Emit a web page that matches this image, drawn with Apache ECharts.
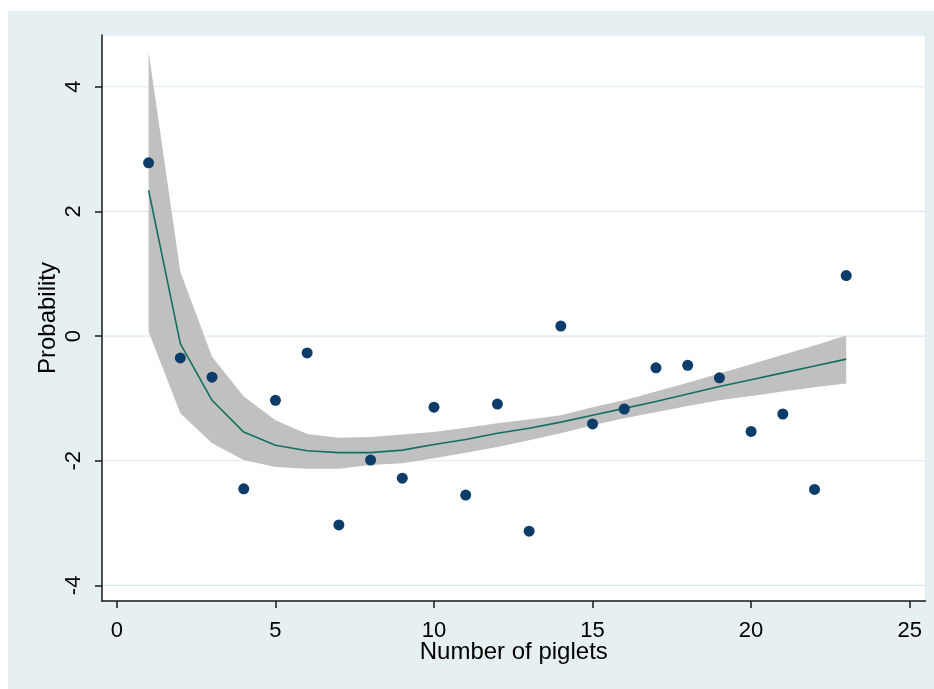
<!DOCTYPE html>
<html><head><meta charset="utf-8">
<script src="https://cdn.jsdelivr.net/npm/echarts@6/dist/echarts.min.js"></script>
<style>html,body{margin:0;padding:0;background:#fff}#c{width:934px;height:689px}</style>
</head><body><div id="c"></div>
<script>
// Observed points
const piglets = [1,2,3,4,5,6,7,8,9,10,11,12,13,14,15,16,17,18,19,20,21,22,23];
const probability = [2.78,-0.35,-0.66,-2.45,-1.03,-0.27,-3.03,-1.99,-2.28,-1.14,-2.55,-1.09,-3.13,0.16,-1.41,-1.17,-0.51,-0.47,-0.67,-1.53,-1.25,-2.46,0.97];
// Fitted curve and 95% CI
const fitX = [1,2,3,4,5,6,7,8,9,10,11,12,13,14,15,16,17,18,19,20,21,22,23];
const fitValues = [2.34,-0.12,-1.03,-1.54,-1.75,-1.84,-1.87,-1.87,-1.83,-1.74,-1.66,-1.56,-1.48,-1.38,-1.27,-1.16,-1.05,-0.93,-0.81,-0.70,-0.59,-0.48,-0.37];
const ciUpper = [4.56,1.03,-0.33,-0.97,-1.35,-1.57,-1.63,-1.62,-1.58,-1.54,-1.47,-1.40,-1.34,-1.27,-1.14,-1.03,-0.89,-0.75,-0.60,-0.45,-0.30,-0.15,0.01];
const ciLower = [0.07,-1.24,-1.72,-1.99,-2.10,-2.13,-2.13,-2.07,-2.04,-1.96,-1.87,-1.78,-1.67,-1.56,-1.43,-1.32,-1.22,-1.12,-1.03,-0.96,-0.89,-0.82,-0.76];
// Tick labels
const xTicks = [0,5,10,15,20,25];
const yTicks = [-4,-2,0,2,4];

const chart = echarts.init(document.getElementById('c'), null, {renderer:'canvas'});
const FONT = '"Liberation Sans", Arial, sans-serif';
const option = {
  animation: false,
  backgroundColor: '#e6f0f2',
  graphic: [
    {type:'rect', left:0, top:0, shape:{width:8, height:689}, style:{fill:'#ffffff'}},
    {type:'rect', left:0, top:0, shape:{width:934, height:11}, style:{fill:'#ffffff'}}
  ],
  grid: {left:102, right:8.5, top:35, bottom:88, show:true, backgroundColor:'#ffffff', borderColor:'#dde9ec', borderWidth:1},
  xAxis: {
    type:'value', min:-0.47, max:25.5,
    name:'Number of piglets', nameLocation:'middle', nameGap:39, nameMoveOverlap:false,
    nameTextStyle:{fontFamily:FONT, fontSize:24, color:'#000'},
    axisLine:{show:true, onZero:false, lineStyle:{color:'#1a1a1a', width:1.5}},
    axisTick:{show:true, length:7, customValues: xTicks, lineStyle:{color:'#1a1a1a', width:1.5}},
    axisLabel:{customValues: xTicks, fontFamily:FONT, fontSize:22, color:'#000', margin:19},
    splitLine:{show:false}
  },
  yAxis: {
    type:'value', min:-4.25, max:4.83,
    name:'Probability', nameLocation:'middle', nameGap:42, nameMoveOverlap:false,
    nameTextStyle:{fontFamily:FONT, fontSize:24, color:'#000'},
    axisLine:{show:true, onZero:false, lineStyle:{color:'#1a1a1a', width:1.5}},
    axisTick:{show:true, length:7, customValues: yTicks, lineStyle:{color:'#1a1a1a', width:1.5}},
    axisLabel:{customValues: yTicks, rotate:90, fontFamily:FONT, fontSize:22, color:'#000', margin:17},
    splitLine:{show:false}
  },
  series: [
    {
      type:'custom', name:'grid', silent:true, z:0,
      data: yTicks.map(v=>[0, v]),
      encode:{x:0, y:1},
      renderItem:(params, api)=>{
        const cs = params.coordSys;
        const p = api.coord([0, api.value(1)]);
        return {type:'line', shape:{x1:cs.x, y1:p[1], x2:cs.x+cs.width, y2:p[1]},
          style:{stroke:'#dce9ec', lineWidth:1.2}};
      }
    },
    {
      type:'custom', name:'ci', silent:true, z:1,
      data: fitX.map((x,i)=>[x, ciUpper[i], ciLower[i]]),
      encode:{x:0, y:[1,2]},
      renderItem:(params, api)=>{
        if (params.dataIndex !== 0) return;
        const pts = [];
        for (let i=0;i<fitX.length;i++) pts.push(api.coord([fitX[i], ciUpper[i]]));
        for (let i=fitX.length-1;i>=0;i--) pts.push(api.coord([fitX[i], ciLower[i]]));
        return {type:'polygon', shape:{points:pts}, style:{fill:'#c0c0c0'}};
      }
    },
    {
      type:'line', name:'fit', z:2, showSymbol:false, silent:true,
      data: fitX.map((x,i)=>[x, fitValues[i]]),
      lineStyle:{color:'#12705f', width:1.6}
    },
    {
      type:'scatter', name:'obs', z:3, symbol:'circle', symbolSize:11,
      data: piglets.map((x,i)=>[x, probability[i]]),
      itemStyle:{color:'#0c3d6a', opacity:1}
    }
  ]
};
chart.setOption(option);
</script>
</body></html>
